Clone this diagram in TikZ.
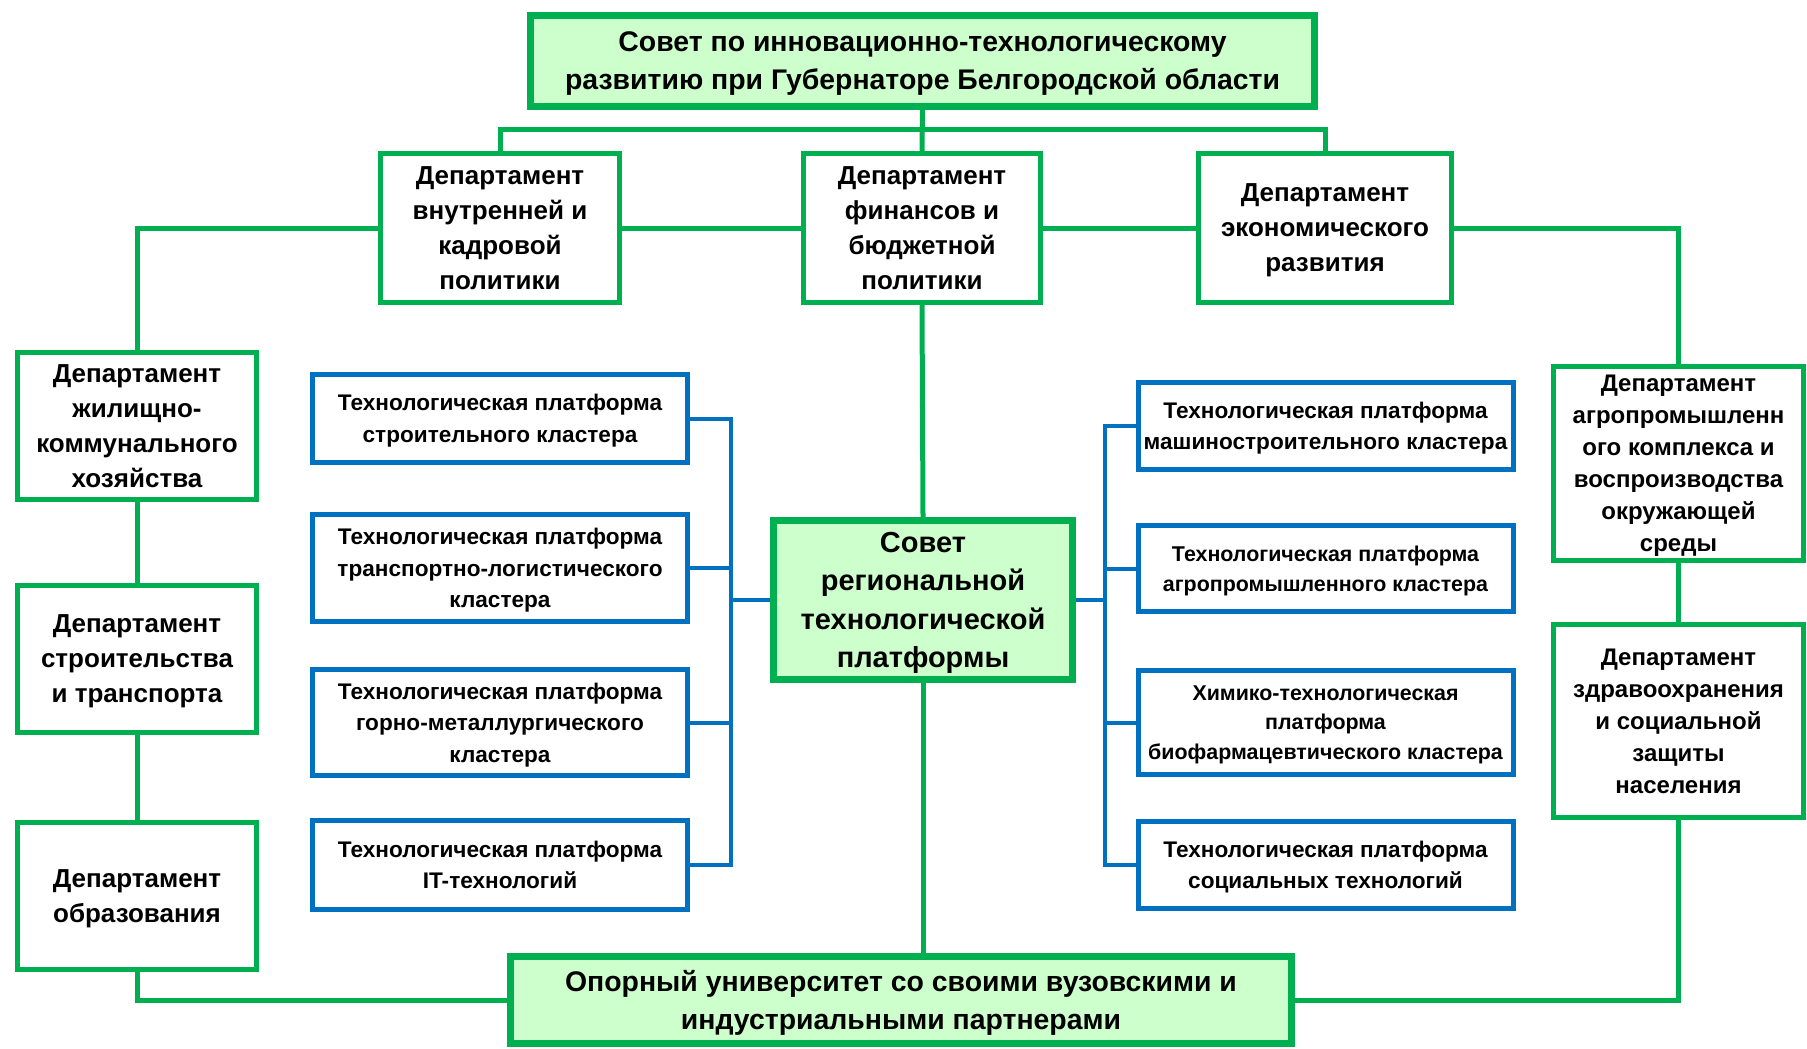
\documentclass[tikz,border=0pt]{standalone}
\usepackage{fontspec}
\setmainfont{Liberation Sans}
\definecolor{grn}{HTML}{00B050}
\definecolor{lgrn}{HTML}{CCFFCC}
\definecolor{blu}{HTML}{0070C0}
\begin{document}
\begin{tikzpicture}[x=0.5pt,y=-0.5pt,
  box/.style={draw=grn, line width=2.5pt, fill=white, align=center, inner sep=0pt, text depth=0pt, font=\bfseries\fontsize{13}{17.5}\selectfont},
  mainbox/.style={draw=grn, line width=3.5pt, fill=lgrn, align=center, inner sep=0pt, text depth=0pt, font=\bfseries\fontsize{14.2}{19}\selectfont},
  platbox/.style={draw=blu, line width=2.5pt, fill=white, align=center, inner sep=0pt, text depth=0pt, minimum width=187.5pt, font=\bfseries\fontsize{11.3}{15.8}\selectfont},
  gline/.style={draw=grn, line width=2.5pt},
  bline/.style={draw=blu, line width=2pt}]
\useasboundingbox (0,0) rectangle (1807,1048);
% main boxes
\node[mainbox, minimum width=392pt, minimum height=45.5pt] (top) at (922.5,61) {Совет по инновационно-технологическому\\развитию при Губернаторе Белгородской области};
\node[mainbox, minimum width=149.5pt, minimum height=79.5pt, font=\bfseries\fontsize{14.5}{19.2}\selectfont] (cen) at (923,600) {Совет\\региональной\\технологической\\платформы};
\node[mainbox, minimum width=390.5pt, minimum height=43.5pt] (univ) at (901,1000) {Опорный университет со своими вузовскими и\\индустриальными партнерами};
% departments
\node[box, minimum width=119.5pt, minimum height=74.5pt] (vnu) at (500,228) {Департамент\\внутренней и\\кадровой\\политики};
\node[box, minimum width=118.5pt, minimum height=74.5pt] (fin) at (922,228) {Департамент\\финансов и\\бюджетной\\политики};
\node[box, minimum width=126.5pt, minimum height=74.5pt] (eko) at (1325,228) {Департамент\\экономического\\развития};
\node[box, minimum width=119.5pt, minimum height=73.5pt] (zhkh) at (137,426) {Департамент\\жилищно-\\коммунального\\хозяйства};
\node[box, minimum width=119.5pt, minimum height=73.5pt] (str) at (137,659) {Департамент\\строительства\\и транспорта};
\node[box, minimum width=119.5pt, minimum height=73.5pt] (obr) at (137,896) {Департамент\\образования};
\node[box, minimum width=125pt, minimum height=97pt, font=\bfseries\fontsize{12}{16}\selectfont] (agro) at (1678.5,463.5) {Департамент\\агропромышленн\\ого комплекса и\\воспроизводства\\окружающей\\среды};
\node[box, minimum width=125pt, minimum height=96.5pt, font=\bfseries\fontsize{12}{16}\selectfont] (zdr) at (1678.5,721) {Департамент\\здравоохранения\\и социальной\\защиты\\населения};
% platforms left
\node[platbox, minimum height=44pt] (l1) at (500,418.5) {Технологическая платформа\\строительного кластера};
\node[platbox, minimum height=53.5pt] (l2) at (500,568) {Технологическая платформа\\транспортно-логистического\\кластера};
\node[platbox, minimum height=53pt] (l3) at (500,722.5) {Технологическая платформа\\горно-металлургического\\кластера};
\node[platbox, minimum height=44.5pt] (l4) at (500,865) {Технологическая платформа\\IT-технологий};
% platforms right
\node[platbox, minimum height=43.5pt] (r1) at (1325.5,426) {Технологическая платформа\\машиностроительного кластера};
\node[platbox, minimum height=43pt, font=\bfseries\fontsize{10.7}{15}\selectfont] (r2) at (1325.5,568.5) {Технологическая платформа\\агропромышленного кластера};
\node[platbox, minimum height=52pt, font=\bfseries\fontsize{10.7}{14.7}\selectfont] (r3) at (1325.5,722.5) {Химико-технологическая\\платформа\\биофармацевтического кластера};
\node[platbox, minimum height=43.5pt] (r4) at (1325.5,865) {Технологическая платформа\\социальных технологий};
% helper coordinates
\coordinate (bus) at (0,130);
\coordinate (lbr) at (731,0);
\coordinate (rbr) at (1105,0);
% green connectors
\draw[gline] (top.south) -- (fin.north);
\draw[gline] (vnu.north) -- (vnu.north |- bus) -- (eko.north |- bus) -- (eko.north);
\draw[gline] (zhkh.north) |- (vnu.west);
\draw[gline] (vnu.east) -- (fin.west);
\draw[gline] (fin.east) -- (eko.west);
\draw[gline] (eko.east) -| (agro.north);
\draw[gline] (agro.south) -- (zdr.north);
\draw[gline] (zhkh.south) -- (str.north);
\draw[gline] (str.south) -- (obr.north);
\draw[gline] (obr.south) |- (univ.west);
\draw[gline] (univ.east) -| (zdr.south);
\draw[gline] (fin.south) -- (cen.north);
\draw[gline] (cen.south) -- (cen.south |- univ.north);
% blue connectors
\draw[bline] (l1.east) -- (l1.east -| lbr) -- (l4.east -| lbr) -- (l4.east);
\draw[bline] (l2.east) -- (l2.east -| lbr);
\draw[bline] (l3.east) -- (l3.east -| lbr);
\draw[bline] (cen.west) -- (cen.west -| lbr);
\draw[bline] (r1.west) -- (r1.west -| rbr) -- (r4.west -| rbr) -- (r4.west);
\draw[bline] (r2.west) -- (r2.west -| rbr);
\draw[bline] (r3.west) -- (r3.west -| rbr);
\draw[bline] (cen.east) -- (cen.east -| rbr);
\end{tikzpicture}
\end{document}
